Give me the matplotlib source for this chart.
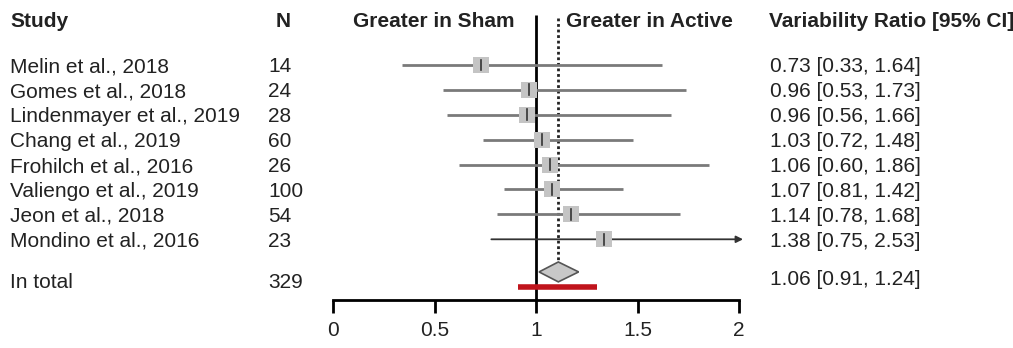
import matplotlib
matplotlib.use("Agg")
import matplotlib.pyplot as plt
from matplotlib.transforms import blended_transform_factory

plt.rcParams['font.family'] = ['Liberation Sans', 'DejaVu Sans']

# ---- data ----
studies = ["Melin et al., 2018", "Gomes et al., 2018", "Lindenmayer et al., 2019",
           "Chang et al., 2019", "Frohilch et al., 2016", "Valiengo et al., 2019",
           "Jeon et al., 2018", "Mondino et al., 2016"]
n_values = [14, 24, 28, 60, 26, 100, 54, 23]
ci_labels = ["0.73 [0.33, 1.64]", "0.96 [0.53, 1.73]", "0.96 [0.56, 1.66]",
             "1.03 [0.72, 1.48]", "1.06 [0.60, 1.86]", "1.07 [0.81, 1.42]",
             "1.14 [0.78, 1.68]", "1.38 [0.75, 2.53]"]
# positions as drawn in the picture
est = [0.73, 0.965, 0.955, 1.03, 1.07, 1.08, 1.17, 1.335]
lo = [0.34, 0.54, 0.56, 0.74, 0.62, 0.84, 0.81, 0.78]
hi = [1.62, 1.74, 1.665, 1.48, 1.85, 1.43, 1.71, 2.53]
total_label = "In total"
total_n = 329
total_ci_label = "1.06 [0.91, 1.24]"
pooled_est = 1.11
pooled_lo = 1.015
pooled_hi = 1.21
pred_lo = 0.91
pred_hi = 1.30
xticks = [0, 0.5, 1, 1.5, 2]
xtick_labels = ["0", "0.5", "1", "1.5", "2"]

# ---- layout ----
W, H = 1013, 348
fig = plt.figure(figsize=(W / 100, H / 100), dpi=100)
ax = fig.add_axes([333 / W, 0, 406 / W, 1])
ax.set_xlim(0, 2)
row_px0, row_step = 65.0, 24.9
ax.set_ylim((H - row_px0) / row_step, -row_px0 / row_step)

rows = list(range(len(studies)))
header_y = -1.73
diamond_y = 8.31
total_text_y = 8.72
pred_y = 8.92
axis_y = 9.44

txtc = '#222222'
fs = 15
tr = blended_transform_factory(fig.transFigure, ax.transData)

# headers
ax.text(10 / W, header_y, "Study", transform=tr, fontsize=fs, fontweight='bold', color=txtc, va='center', ha='left')
ax.text(276 / W, header_y, "N", transform=tr, fontsize=fs, fontweight='bold', color=txtc, va='center', ha='left')
ax.text(434 / W, header_y, "Greater in Sham", transform=tr, fontsize=fs, fontweight='bold', color=txtc, va='center', ha='center')
ax.text(566 / W, header_y, "Greater in Active", transform=tr, fontsize=fs, fontweight='bold', color=txtc, va='center', ha='left')
ax.text(769 / W, header_y, "Variability Ratio [95% CI]", transform=tr, fontsize=fs, fontweight='bold', color=txtc, va='center', ha='left')

# study rows
for r, s, n, c in zip(rows, studies, n_values, ci_labels):
    ty = r + 0.08
    ax.text(10 / W, ty, s, transform=tr, fontsize=fs, color=txtc, va='center', ha='left')
    ax.text(268 / W, ty, str(n), transform=tr, fontsize=fs, color=txtc, va='center', ha='left')
    ax.text(770 / W, ty, c, transform=tr, fontsize=fs, color=txtc, va='center', ha='left')

ax.text(10 / W, total_text_y, total_label, transform=tr, fontsize=fs, color=txtc, va='center', ha='left')
ax.text(268 / W, total_text_y, str(total_n), transform=tr, fontsize=fs, color=txtc, va='center', ha='left')
ax.text(770 / W, total_text_y - 0.1, total_ci_label, transform=tr, fontsize=fs, color=txtc, va='center', ha='left')

# reference lines
ax.plot([1, 1], [-2.0, axis_y], color='black', lw=2, zorder=2, solid_capstyle='butt')
ax.plot([pooled_est, pooled_est], [-1.9, diamond_y - 0.4], color='#222222', lw=2,
        linestyle=(0, (1, 1)), zorder=2)

# CIs and squares
for r, e, l, h in zip(rows, est, lo, hi):
    if h > 2:
        ax.annotate("", xy=(2.02, r), xytext=(l, r),
                    arrowprops=dict(arrowstyle='-|>', color='#333333', lw=1.3,
                                    mutation_scale=10, shrinkA=0, shrinkB=0),
                    annotation_clip=False, zorder=3)
    else:
        ax.plot([l, h], [r, r], color='#7a7a7a', lw=2, zorder=3, solid_capstyle='butt')
    ax.plot([e], [r], marker='s', markersize=11.5, color='#c4c4c4', markeredgewidth=0, zorder=4)
    ax.plot([e, e], [r - 0.22, r + 0.22], color='#333333', lw=1.2, zorder=5)

# pooled diamond
ax.fill([pooled_lo, pooled_est, pooled_hi, pooled_est],
        [diamond_y, diamond_y - 0.4, diamond_y, diamond_y + 0.4],
        facecolor='#c8c8c8', edgecolor='#555555', lw=1.2, zorder=4)

# prediction bar
ax.plot([pred_lo, pred_hi], [pred_y, pred_y], color='#c0141c', lw=4, zorder=3, solid_capstyle='butt')

# axis
for side in ['left', 'right', 'top']:
    ax.spines[side].set_visible(False)
ax.spines['bottom'].set_position(('data', axis_y))
ax.spines['bottom'].set_linewidth(2)
ax.spines['bottom'].set_bounds(0, 2)
ax.set_xticks(xticks)
ax.set_xticklabels(xtick_labels)
ax.tick_params(axis='x', direction='out', length=9, width=2, pad=6, labelsize=fs, labelcolor=txtc)
ax.set_yticks([])
ax.patch.set_visible(False)

fig.savefig("out.png", dpi=100)
